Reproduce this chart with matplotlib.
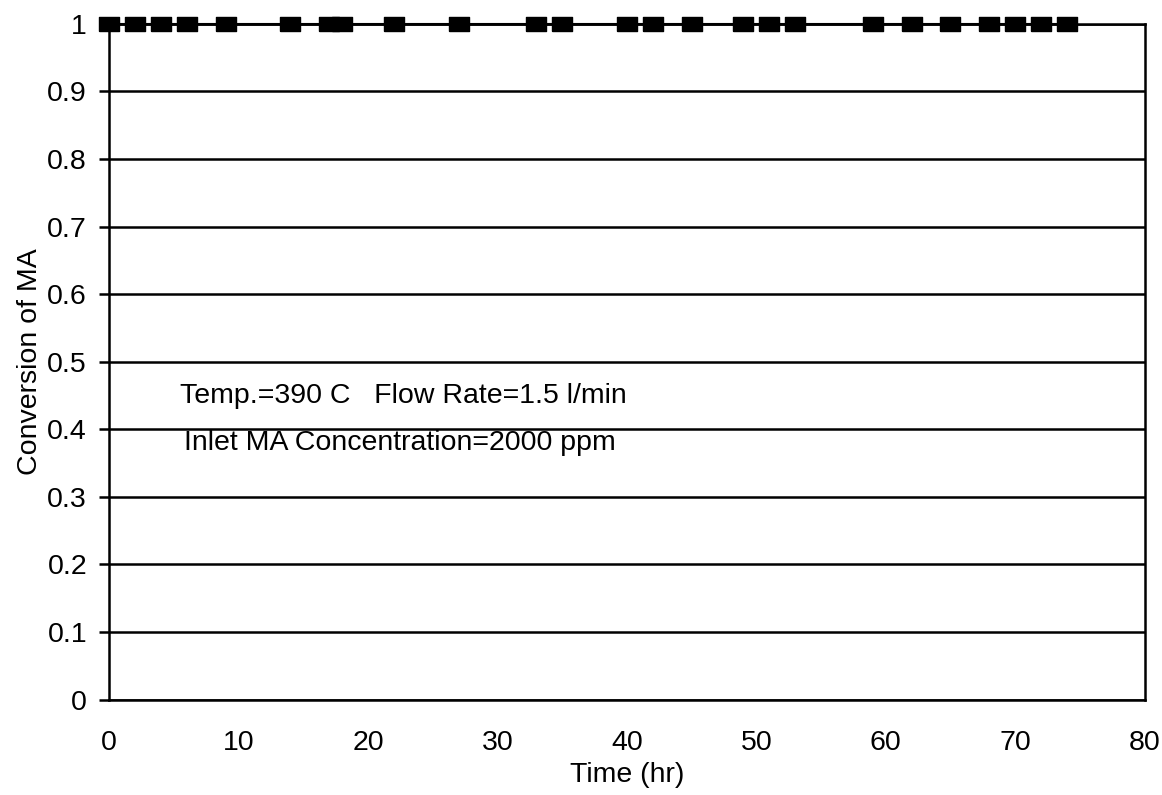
import matplotlib as mpl
import matplotlib.pyplot as plt

mpl.rcParams['axes.linewidth'] = 1.8
plt.rc('font', family=['Liberation Sans', 'DejaVu Sans'], size=20.5)

# time on stream (hr) and MA conversion
time_hr = [0, 2, 4, 6, 9, 14, 17, 18, 22, 27, 33, 35, 40, 42, 45, 49, 51, 53,
           59, 62, 65, 68, 70, 72, 74]
conversion = [1, 1, 1, 1, 1, 1, 1, 1, 1, 1, 1, 1, 1, 1, 1, 1, 1, 1,
              1, 1, 1, 1, 1, 1, 1]

x_ticks = [0, 10, 20, 30, 40, 50, 60, 70, 80]
y_ticks = [0, 0.1, 0.2, 0.3, 0.4, 0.5, 0.6, 0.7, 0.8, 0.9, 1]
y_ticklabels = ['0', '0.1', '0.2', '0.3', '0.4', '0.5', '0.6', '0.7', '0.8', '0.9', '1']

fig, ax = plt.subplots(figsize=(11.62, 7.95), dpi=100)
plt.subplots_adjust(left=0.094, right=0.985, top=0.970, bottom=0.12)

# wide rectangular marker
rect = [(-1.4, -1), (1.4, -1), (1.4, 1), (-1.4, 1), (-1.4, -1)]
ax.plot(time_hr, conversion, color='black', linewidth=1.5,
        marker=rect, markersize=14, markerfacecolor='black',
        markeredgecolor='black', clip_on=False, zorder=5)

ax.set_xlim(0, 80)
ax.set_ylim(0, 1)
ax.set_xticks(x_ticks)
ax.set_yticks(y_ticks)
ax.set_yticklabels(y_ticklabels)
ax.yaxis.grid(True, color='black', linewidth=1.8)
ax.set_axisbelow(True)
ax.tick_params(axis='y', direction='out', length=7, width=1.8, pad=9)
ax.tick_params(axis='x', length=0, pad=22)

ax.set_xlabel('Time (hr)', labelpad=4)
ax.set_ylabel('Conversion of MA', labelpad=3)

ax.text(5.5, 0.45, 'Temp.=390 C   Flow Rate=1.5 l/min', ha='left', va='center')
ax.text(5.8, 0.38, 'Inlet MA Concentration=2000 ppm', ha='left', va='center')

plt.savefig('out.png', dpi=100)
